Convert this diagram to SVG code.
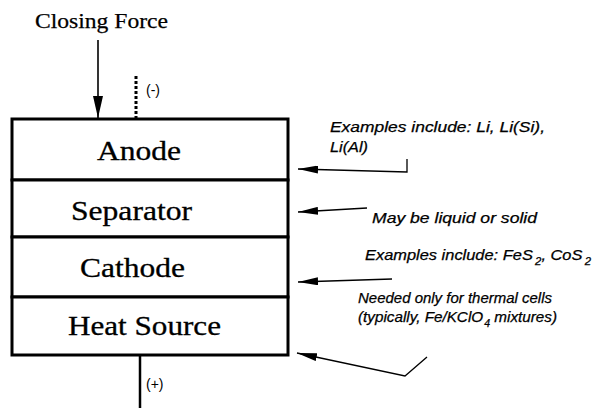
<svg xmlns="http://www.w3.org/2000/svg" width="603" height="408" viewBox="0 0 603 408">
<style>
.layer{fill:#fff;stroke:#000;stroke-width:3}
.lbl{font-family:"Liberation Serif","Times New Roman",serif;font-size:27px;fill:#000;stroke:#000;stroke-width:0.3}
.ann{font-family:"Liberation Sans",Arial,sans-serif;font-style:italic;font-size:14.5px;fill:#000;stroke:#000;stroke-width:0.25}
.term{font-family:"Liberation Sans",Arial,sans-serif;font-size:14px;fill:#000}
.sub{font-size:10px}
.conn{fill:none;stroke:#000;stroke-width:1.3}
</style>
<defs>
<marker id="ah" viewBox="0 0 20 8" refX="20" refY="4" markerWidth="20" markerHeight="8" markerUnits="userSpaceOnUse" orient="auto">
<path d="M0,0 L20,4 L0,8 z" fill="#000"/>
</marker>
<marker id="ahBig" viewBox="0 0 10 22" refX="5" refY="22" markerWidth="10" markerHeight="22" markerUnits="userSpaceOnUse" orient="0">
<path d="M0,0 L10,0 L5,22 z" fill="#000"/>
</marker>
</defs>
<rect width="603" height="408" fill="#fff"/>

<text x="35" y="28" font-family="Liberation Serif,'Times New Roman',serif" font-size="22" stroke="#000" stroke-width="0.25" textLength="133" lengthAdjust="spacingAndGlyphs">Closing Force</text>

<g id="anode">
<rect class="layer" x="12" y="119" width="276" height="61"/>
<text class="lbl" x="97" y="160" textLength="84" lengthAdjust="spacingAndGlyphs">Anode</text>
</g>
<g id="separator">
<rect class="layer" x="12" y="180" width="276" height="57"/>
<text class="lbl" x="71" y="220" textLength="121" lengthAdjust="spacingAndGlyphs">Separator</text>
</g>
<g id="cathode">
<rect class="layer" x="12" y="237" width="276" height="60"/>
<text class="lbl" x="80" y="277" textLength="105" lengthAdjust="spacingAndGlyphs">Cathode</text>
</g>
<g id="heat-source">
<rect class="layer" x="12" y="297" width="276" height="58"/>
<text class="lbl" x="68" y="335" textLength="153" lengthAdjust="spacingAndGlyphs">Heat Source</text>
</g>

<g id="connectors">
<line x1="98" y1="40" x2="98" y2="118" stroke="#000" stroke-width="1.6" marker-end="url(#ahBig)"/>
<line x1="136" y1="76" x2="136" y2="118" stroke="#000" stroke-width="3" stroke-dasharray="3,2"/>
<line x1="140" y1="356" x2="140" y2="408" stroke="#000" stroke-width="2.5"/>
<path class="conn" d="M407,159 L407,172 L298,169" marker-end="url(#ah)"/>
<path class="conn" d="M367,208 L298,212" marker-end="url(#ah)"/>
<path class="conn" d="M392,279 L298,282" marker-end="url(#ah)"/>
<path class="conn" d="M427,357 L405,376 L297,353" marker-end="url(#ah)"/>
</g>

<text class="term" x="146" y="95">(-)</text>
<text class="term" x="146" y="389">(+)</text>

<text class="ann" x="330" y="132" textLength="215" lengthAdjust="spacingAndGlyphs">Examples include:  Li, Li(Si),</text>
<text class="ann" x="330" y="152" textLength="38" lengthAdjust="spacingAndGlyphs">Li(Al)</text>
<text class="ann" x="372" y="223" textLength="165" lengthAdjust="spacingAndGlyphs">May be liquid or solid</text>
<text class="ann" x="365" y="260" textLength="226" lengthAdjust="spacingAndGlyphs">Examples include:  FeS<tspan class="sub" dx="2" dy="5">2</tspan><tspan dy="-5">, CoS</tspan><tspan class="sub" dx="2" dy="5">2</tspan></text>
<text class="ann" x="358" y="303" textLength="194" lengthAdjust="spacingAndGlyphs">Needed only for thermal cells</text>
<text class="ann" x="358" y="322" textLength="199" lengthAdjust="spacingAndGlyphs">(typically, Fe/KClO<tspan class="sub" dx="1" dy="5">4</tspan><tspan dy="-5"> mixtures)</tspan></text>
</svg>
